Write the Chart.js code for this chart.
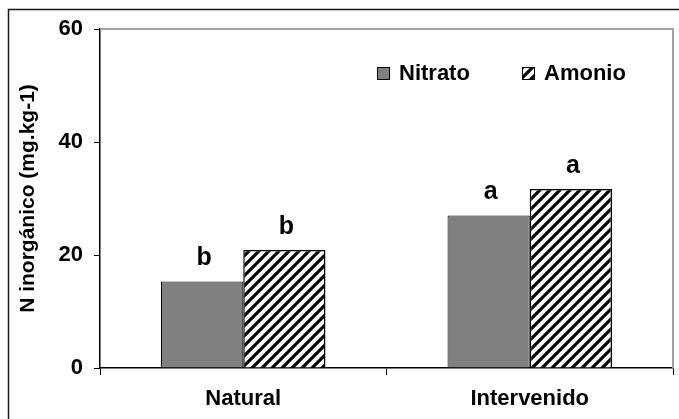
<!DOCTYPE html>
<html>
<head>
<meta charset="utf-8">
<script src="https://cdn.jsdelivr.net/npm/chart.js@4.4.1/dist/chart.umd.min.js"></script>
<style>
  html, body { margin: 0; padding: 0; background: #fff; }
  #wrap { width: 679px; height: 419px; position: relative; }
</style>
</head>
<body>
<div id="wrap"><canvas id="c" width="679" height="419"></canvas></div>
<script>
// values
const categories = ['Natural', 'Intervenido'];
const seriesNames = ['Nitrato', 'Amonio'];
const nitratoValues = [15.3, 27.0];
const amonioValues = [20.9, 31.7];
const nitratoLetters = ['b', 'a'];
const amonioLetters = ['b', 'a'];
const yTicks = [0, 20, 40, 60];
const yTitle = 'N inorgánico (mg.kg-1)';

const FONT = '"Liberation Sans", Arial, sans-serif';

function makeHatch() {
  const s = 10;
  const p = document.createElement('canvas');
  p.width = s; p.height = s;
  const g = p.getContext('2d');
  g.fillStyle = '#fff';
  g.fillRect(0, 0, s, s);
  g.strokeStyle = '#000';
  g.lineWidth = 3.2;
  g.beginPath();
  g.moveTo(-2, s + 2); g.lineTo(s + 2, -2);
  g.moveTo(-2 - s, s + 2); g.lineTo(2, -2);
  g.moveTo(s - 2, s + 2); g.lineTo(2 * s + 2, -2);
  g.stroke();
  return document.getElementById('c').getContext('2d').createPattern(p, 'repeat');
}
const hatch = makeHatch();

const decoPlugin = {
  id: 'deco',
  beforeDraw(chart) {
    const ctx = chart.ctx;
    ctx.save();
    ctx.fillStyle = '#fff';
    ctx.fillRect(0, 0, chart.width, chart.height);
    // outer frame (top and left visible)
    ctx.strokeStyle = '#1a1a1a';
    ctx.lineWidth = 1.5;
    ctx.beginPath();
    ctx.moveTo(8.5, 430); ctx.lineTo(8.5, 9.5); ctx.lineTo(690, 9.5);
    ctx.stroke();
    ctx.restore();
  },
  afterDatasetsDraw(chart) {
    const ctx = chart.ctx;
    const a = chart.chartArea;
    ctx.save();
    // plot area border (top and right in gray)
    ctx.strokeStyle = '#a0a0a0';
    ctx.lineWidth = 2;
    ctx.beginPath();
    ctx.moveTo(a.left, a.top); ctx.lineTo(a.right, a.top); ctx.lineTo(a.right, a.bottom);
    ctx.stroke();
    // letters above bars
    ctx.fillStyle = '#000';
    ctx.font = 'bold 25px ' + FONT;
    ctx.textAlign = 'center';
    ctx.textBaseline = 'middle';
    const letterSets = [nitratoLetters, amonioLetters];
    chart.data.datasets.forEach((ds, di) => {
      const meta = chart.getDatasetMeta(di);
      meta.data.forEach((bar, i) => {
        ctx.fillText(letterSets[di][i], bar.x + 2, bar.y - 23);
      });
    });
    // legend
    const legendX = [377, 522];
    const textX = [399, 544];
    const ly = 73;
    ctx.font = 'bold 22px ' + FONT;
    ctx.textAlign = 'left';
    chart.data.datasets.forEach((ds, di) => {
      ctx.fillStyle = ds.backgroundColor;
      ctx.fillRect(legendX[di], ly - 6, 12, 12);
      ctx.strokeStyle = '#000';
      ctx.lineWidth = 1;
      ctx.strokeRect(legendX[di] + 0.5, ly - 5.5, 12, 12);
      ctx.fillStyle = '#000';
      ctx.fillText(ds.label, textX[di], ly + 1);
    });
    ctx.restore();
  }
};

new Chart(document.getElementById('c'), {
  type: 'bar',
  data: {
    labels: categories,
    datasets: [
      { label: seriesNames[0], data: nitratoValues, backgroundColor: '#808080', borderColor: '#000', borderWidth: 1 },
      { label: seriesNames[1], data: amonioValues, backgroundColor: hatch, borderColor: '#000', borderWidth: 1.5 }
    ]
  },
  options: {
    responsive: false,
    animation: false,
    layout: { padding: { left: 0, top: 29, right: 6, bottom: 0 } },
    datasets: { bar: { categoryPercentage: 0.574, barPercentage: 1.0 } },
    plugins: { legend: { display: false }, tooltip: { enabled: false } },
    scales: {
      x: {
        grid: { display: true, offset: true, drawOnChartArea: false, drawTicks: true, tickLength: 7, color: '#000', lineWidth: 1 },
        border: { display: true, color: '#000', width: 1.5 },
        ticks: { color: '#000', font: { family: FONT, size: 22, weight: 'bold' }, padding: 11 },
        afterFit(s) { s.height = 51; }
      },
      y: {
        min: 0, max: 60,
        afterBuildTicks(s) { s.ticks = yTicks.map(v => ({ value: v })); },
        grid: { display: true, drawOnChartArea: false, drawTicks: true, tickLength: 6, color: '#000', lineWidth: 1 },
        border: { display: true, color: '#000', width: 1.5 },
        ticks: { color: '#000', font: { family: FONT, size: 22, weight: 'bold' }, padding: 11 },
        title: { display: true, text: yTitle, color: '#000', font: { family: FONT, size: 21, weight: 'bold' }, padding: { top: 16, bottom: 0 } },
        afterFit(s) { s.width = 100; }
      }
    }
  },
  plugins: [decoPlugin]
});
</script>
</body>
</html>
